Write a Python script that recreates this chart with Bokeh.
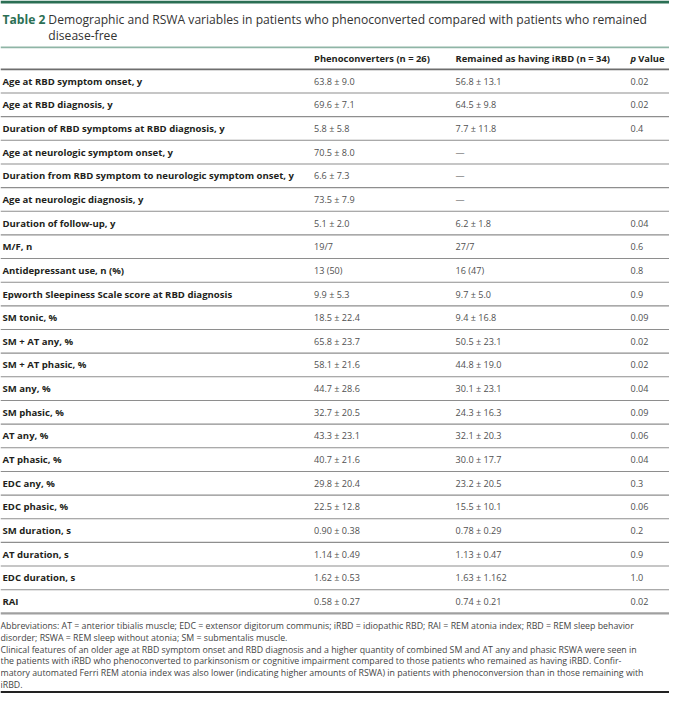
from bokeh.plotting import figure
from bokeh.models import Range1d, ColumnDataSource
from bokeh.embed import file_html
from bokeh.resources import INLINE
from bokeh.core.properties import value

# ---------------- data ----------------
title_tag = "Table 2"
title_lines = [
    "Demographic and RSWA variables in patients who phenoconverted compared with patients who remained",
    "disease-free",
]
col_headers = ["Phenoconverters (n = 26)", "Remained as having iRBD (n = 34)"]
p_header_italic = "p"
p_header_rest = "Value"

variables = [
    "Age at RBD symptom onset, y",
    "Age at RBD diagnosis, y",
    "Duration of RBD symptoms at RBD diagnosis, y",
    "Age at neurologic symptom onset, y",
    "Duration from RBD symptom to neurologic symptom onset, y",
    "Age at neurologic diagnosis, y",
    "Duration of follow-up, y",
    "M/F, n",
    "Antidepressant use, n (%)",
    "Epworth Sleepiness Scale score at RBD diagnosis",
    "SM tonic, %",
    "SM + AT any, %",
    "SM + AT phasic, %",
    "SM any, %",
    "SM phasic, %",
    "AT any, %",
    "AT phasic, %",
    "EDC any, %",
    "EDC phasic, %",
    "SM duration, s",
    "AT duration, s",
    "EDC duration, s",
    "RAI",
]
phenoconverters = [
    "63.8 ± 9.0", "69.6 ± 7.1", "5.8 ± 5.8", "70.5 ± 8.0", "6.6 ± 7.3",
    "73.5 ± 7.9", "5.1 ± 2.0", "19/7", "13 (50)", "9.9 ± 5.3",
    "18.5 ± 22.4", "65.8 ± 23.7", "58.1 ± 21.6", "44.7 ± 28.6", "32.7 ± 20.5",
    "43.3 ± 23.1", "40.7 ± 21.6", "29.8 ± 20.4", "22.5 ± 12.8", "0.90 ± 0.38",
    "1.14 ± 0.49", "1.62 ± 0.53", "0.58 ± 0.27",
]
remained_irbd = [
    "56.8 ± 13.1", "64.5 ± 9.8", "7.7 ± 11.8", "—", "—",
    "—", "6.2 ± 1.8", "27/7", "16 (47)", "9.7 ± 5.0",
    "9.4 ± 16.8", "50.5 ± 23.1", "44.8 ± 19.0", "30.1 ± 23.1", "24.3 ± 16.3",
    "32.1 ± 20.3", "30.0 ± 17.7", "23.2 ± 20.5", "15.5 ± 10.1", "0.78 ± 0.29",
    "1.13 ± 0.47", "1.63 ± 1.162", "0.74 ± 0.21",
]
p_values = [
    "0.02", "0.02", "0.4", "", "",
    "", "0.04", "0.6", "0.8", "0.9",
    "0.09", "0.02", "0.02", "0.04", "0.09",
    "0.06", "0.04", "0.3", "0.06", "0.2",
    "0.9", "1.0", "0.02",
]
footnotes = [
    "Abbreviations: AT = anterior tibialis muscle; EDC = extensor digitorum communis; iRBD = idiopathic RBD; RAI = REM atonia index; RBD = REM sleep behavior",
    "disorder; RSWA = REM sleep without atonia; SM = submentalis muscle.",
    "Clinical features of an older age at RBD symptom onset and RBD diagnosis and a higher quantity of combined SM and AT any and phasic RSWA were seen in",
    "the patients with iRBD who phenoconverted to parkinsonism or cognitive impairment compared to those patients who remained as having iRBD. Confir-",
    "matory automated Ferri REM atonia index was also lower (indicating higher amounts of RSWA) in patients with phenoconversion than in those remaining with",
    "iRBD.",
]

# ---------------- layout ----------------
W, H = 669, 693
REF_W, REF_H = 685, 709
S = W / REF_W

def fs(px):
    return f"{px * S:.2f}px"

FONT = value("Open Sans")
GREEN = "#2b6f54"
LABEL_C = "#231f20"
VALUE_C = "#505050"

X_LABEL, X_C1, X_C2, X_C3 = 2, 321, 466, 645
ROW0, ROW_H = 82.5, 24.2
row_y = [ROW0 + i * ROW_H for i in range(len(variables))]

p = figure(width=W, height=H, x_range=Range1d(0, REF_W), y_range=Range1d(REF_H, 0),
           x_axis_type=None, y_axis_type=None, output_backend="svg",
           toolbar_location=None, min_border=0)
p.grid.visible = False
p.outline_line_color = None
p.background_fill_color = "white"

# top green bar
p.quad(left=[0], right=[REF_W], top=[0], bottom=[3], fill_color=GREEN, line_color=None)

# title
p.text(x=[X_LABEL], y=[19], text=[title_tag], text_font=FONT, text_font_style="bold",
       text_font_size=fs(12.4), text_color=GREEN, text_baseline="middle")
p.text(x=[49, 49], y=[19, 36], text=title_lines, text_font=FONT,
       text_font_size=fs(12.4), text_color="#333333", text_baseline="middle")

# header rule lines
p.segment(x0=[0], x1=[REF_W], y0=[48], y1=[48], line_color="#8fb5a6", line_width=1.6)
p.segment(x0=[0], x1=[REF_W], y0=[70.5], y1=[70.5], line_color="#6e6e6e", line_width=1.6)

# header text
p.text(x=[X_C1, X_C2], y=[59, 59], text=col_headers, text_font=FONT, text_font_style="bold",
       text_font_size=fs(9.6), text_color=LABEL_C, text_baseline="middle")
p.text(x=[X_C3], y=[59], text=[p_header_italic], text_font=FONT, text_font_style="bold italic",
       text_font_size=fs(9.6), text_color=LABEL_C, text_baseline="middle")
p.text(x=[X_C3 + 8], y=[59], text=[p_header_rest], text_font=FONT, text_font_style="bold",
       text_font_size=fs(9.6), text_color=LABEL_C, text_baseline="middle")

# rows
src = ColumnDataSource(dict(
    y=row_y, var=variables, c1=phenoconverters, c2=remained_irbd, c3=p_values,
))
p.text(x=X_LABEL, y="y", text="var", source=src, text_font=FONT, text_font_style="bold",
       text_font_size=fs(9.8), text_color=LABEL_C, text_baseline="middle")
for xc, col in ((X_C1, "c1"), (X_C2, "c2"), (X_C3, "c3")):
    p.text(x=xc, y="y", text=col, source=src, text_font=FONT,
           text_font_size=fs(9.3), text_color=VALUE_C, text_baseline="middle")

# row separators
sep_y = [y + ROW_H / 2 for y in row_y[:-1]]
p.segment(x0=[0] * len(sep_y), x1=[REF_W] * len(sep_y), y0=sep_y, y1=sep_y,
          line_color="#8e8e8e", line_width=1.1)
last_y = row_y[-1] + ROW_H / 2
p.segment(x0=[0], x1=[REF_W], y0=[last_y], y1=[last_y], line_color="#a0a0a0", line_width=2.2)

# footnotes
FN0, FN_H = 640, 12
fn_y = [FN0 + i * FN_H for i in range(len(footnotes))]
p.text(x=[0] * len(footnotes), y=fn_y, text=footnotes, text_font=FONT,
       text_font_size=fs(9.0), text_color="#444444", text_baseline="middle")

# bottom rule
p.segment(x0=[0], x1=[REF_W], y0=[707.5], y1=[707.5], line_color="#222222", line_width=2)

open("out.html", "w").write(file_html(p, INLINE))
